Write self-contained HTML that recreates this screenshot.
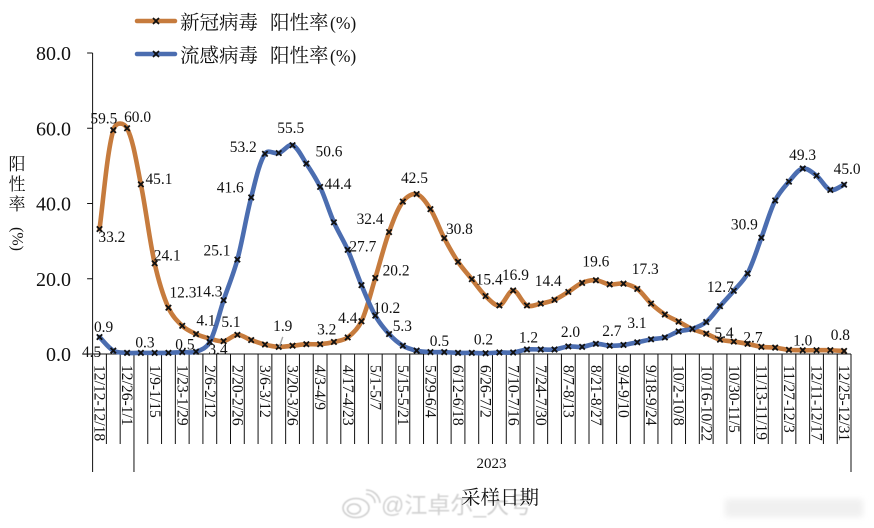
<!DOCTYPE html>
<html lang="zh">
<head>
<meta charset="utf-8">
<title>新冠病毒与流感病毒阳性率</title>
<style>
html,body{margin:0;padding:0;background:#fff}
svg{display:block}
text{font-family:"Liberation Serif","Noto Serif CJK SC",serif;fill:#111}
</style>
</head>
<body>
<svg id="chart" width="874" height="528" viewBox="0 0 874 528" xmlns="http://www.w3.org/2000/svg">
  <defs><filter id="soft" x="-20%" y="-50%" width="140%" height="200%"><feGaussianBlur stdDeviation="3"/></filter>
  <filter id="soft2"><feGaussianBlur stdDeviation="0.6"/></filter></defs>
  <g>
    <g fill="none" stroke="#cfcfcf" stroke-width="1.6" filter="url(#soft2)">
      <ellipse cx="356" cy="508" rx="13" ry="9.5"/><ellipse cx="354" cy="509" rx="6.5" ry="5"/>
      <path d="M366 494a9 9 0 0 1 9 9M366 490a14 14 0 0 1 14 13"/>
    </g>
    <text x="381" y="513" font-size="23" style="fill:#d2d2d2;font-family:'Liberation Sans','Noto Sans CJK SC',sans-serif" filter="url(#soft2)">@江卓尔_大号</text>
    <rect x="725" y="499" width="138" height="18" fill="#f0f0f0" filter="url(#soft)"/>
  </g>
  <g id="axes"></g>
  <g id="series"></g>
  <g id="labels"></g>
  <g>
    <g>
      <line x1="137" x2="175" y1="21" y2="21" stroke="#C67B3D" stroke-width="4.5" stroke-linecap="round"/>
      <path d="M153 18l6 6M159 18l-6 6" stroke="#111" stroke-width="1.8"/>
      <text y="29" font-size="19.5"><tspan x="180">新冠病毒</tspan><tspan x="270">阳性率</tspan><tspan x="330" font-size="17.5">(%)</tspan></text>
    </g>
    <g>
      <line x1="137" x2="175" y1="54" y2="54" stroke="#4B6DB0" stroke-width="4.5" stroke-linecap="round"/>
      <path d="M153 51l6 6M159 51l-6 6" stroke="#111" stroke-width="1.8"/>
      <text y="62" font-size="19.5"><tspan x="180">流感病毒</tspan><tspan x="270">阳性率</tspan><tspan x="330" font-size="17.5">(%)</tspan></text>
    </g>
  </g>
  <g>
    <text x="17" y="170" font-size="17" text-anchor="middle">阳</text>
    <text x="17" y="190" font-size="17" text-anchor="middle">性</text>
    <text x="17" y="210" font-size="17" text-anchor="middle">率</text>
    <text x="17" y="239" font-size="16" text-anchor="middle" dominant-baseline="central" transform="rotate(90 17 239)">(%)</text>
  </g>
  <text x="491.5" y="468" font-size="15" text-anchor="middle">2023</text>
  <text x="500" y="504" font-size="19.5" text-anchor="middle">采样日期</text>
</svg>
<script>
const categories = ["12/12-12/18","12/19-12/25","12/26-1/1","1/2-1/8","1/9-1/15","1/16-1/22","1/23-1/29","1/30-2/5","2/6-2/12","2/13-2/19","2/20-2/26","2/27-3/5","3/6-3/12","3/13-3/19","3/20-3/26","3/27-4/2","4/3-4/9","4/10-4/16","4/17-4/23","4/24-4/30","5/1-5/7","5/8-5/14","5/15-5/21","5/22-5/28","5/29-6/4","6/5-6/11","6/12-6/18","6/19-6/25","6/26-7/2","7/3-7/9","7/10-7/16","7/17-7/23","7/24-7/30","7/31-8/6","8/7-8/13","8/14-8/20","8/21-8/27","8/28-9/3","9/4-9/10","9/11-9/17","9/18-9/24","9/25-10/1","10/2-10/8","10/9-10/15","10/16-10/22","10/23-10/29","10/30-11/5","11/6-11/12","11/13-11/19","11/20-11/26","11/27-12/3","12/4-12/10","12/11-12/17","12/18-12/24","12/25-12/31"];
const covidValues = [33.2,59.5,60.0,45.1,24.1,12.3,7.5,5.3,4.1,3.4,5.1,3.7,2.5,1.9,2.2,2.6,2.6,3.2,4.4,8.7,20.2,32.4,40.5,42.5,38.5,30.8,24.5,19.9,15.4,12.9,16.9,12.9,13.4,14.4,16.5,18.9,19.6,18.5,18.7,17.3,13.4,10.5,8.6,6.6,5.4,3.8,3.3,2.7,1.9,1.7,1.1,1.0,1.0,1.0,0.8];
const fluValues = [4.5,0.9,0.3,0.3,0.3,0.3,0.5,0.6,3.2,14.3,25.1,41.6,53.2,53.4,55.5,50.6,44.4,35.0,27.7,18.3,10.2,5.3,2.2,0.9,0.5,0.5,0.3,0.3,0.2,0.4,0.4,1.2,1.2,1.2,2.0,1.9,2.7,2.2,2.4,3.1,3.9,4.4,6.0,6.7,8.5,12.7,16.8,21.4,30.9,40.8,45.8,49.3,47.4,43.6,45.0];
const yTicks = [0,20,40,60,80];
const groupBoundaries = [0,3,55];
const covidLabelled = [0,1,2,3,4,5,8,9,10,13,17,18,20,21,23,25,28,30,33,36,39,44,47,51,54];
const fluLabelled = [0,1,3,6,9,10,11,12,14,15,16,18,20,21,24,28,31,34,36,39,45,48,51,54];

const NS = "http://www.w3.org/2000/svg";
const plot = {left:92.6, right:851, top:53, bottom:354, yMax:80};
const band = (plot.right - plot.left) / categories.length;
const chordBlend = 0.6;
function xScale(i){ return plot.left + band * (i + 0.5); }
function yScale(v){ return plot.bottom - (plot.bottom - plot.top) * v / plot.yMax; }
function make(tag, attrs, parent){
  const el = document.createElementNS(NS, tag);
  Object.keys(attrs).forEach(function(k){ el.setAttribute(k, attrs[k]); });
  parent.appendChild(el);
  return el;
}
function dist(p,q){ return Math.hypot(p[0]-q[0], p[1]-q[1]); }
function handle(prevLen, segLen){
  const chord = (prevLen + segLen) > 0 ? segLen / (prevLen + segLen) / 3 : 1/6;
  return chordBlend * chord + (1 - chordBlend) / 6;
}
function smoothPath(vals){
  const p = vals.map(function(v,i){ return [xScale(i), yScale(v)]; });
  let d = "M" + p[0][0].toFixed(2) + " " + p[0][1].toFixed(2);
  for (let i = 0; i < p.length - 1; i++){
    const a = p[Math.max(i-1,0)], b = p[i], c = p[i+1], e = p[Math.min(i+2,p.length-1)];
    const l0 = dist(a,b), l1 = dist(b,c), l2 = dist(c,e);
    const h1 = handle(l0,l1), h2 = handle(l2,l1);
    const c1x = b[0] + (c[0]-a[0])*h1, c1y = b[1] + (c[1]-a[1])*h1;
    const c2x = c[0] - (e[0]-b[0])*h2, c2y = c[1] - (e[1]-b[1])*h2;
    d += "C" + [c1x,c1y,c2x,c2y,c[0],c[1]].map(function(n){ return n.toFixed(2); }).join(" ");
  }
  return d;
}

// axes
const axes = document.getElementById("axes");
const yAxisLine = make("line",{x1:plot.left,x2:plot.left,y1:plot.top,y2:plot.bottom,stroke:"#111","stroke-width":1},axes);


const xAxisLine = make("line",{x1:plot.left,x2:plot.right,y1:plot.bottom,y2:plot.bottom,stroke:"#111","stroke-width":1},axes);


yTicks.forEach(function(t){
  const tick = make("line",{x1:plot.left-5.5,x2:plot.left,y1:yScale(t),y2:yScale(t),stroke:"#111","stroke-width":1},axes);
  
  
  const lab = make("text",{x:71,y:yScale(t)+1,"font-size":20,"text-anchor":"end","dominant-baseline":"central"},axes);
  
  
  lab.textContent = t.toFixed(1);
});
for (let i = 0; i <= categories.length; i++){
  const long = groupBoundaries.indexOf(i) >= 0;
  const tx = plot.left + band * i;
  const tick = make("line",{x1:tx,x2:tx,y1:plot.bottom,y2:long?472:444,stroke:"#111","stroke-width":1},axes);
  
  
}
categories.forEach(function(c,i){
  if (i % 2) return;
  const tx = xScale(i) - 0.4;
  const lab = make("text",{x:tx,y:365,"font-size":15.6,"dominant-baseline":"central",transform:"rotate(90 "+tx+" 365)"},axes);
  
  
  lab.textContent = c;
});

// series
const seriesG = document.getElementById("series");
function drawSeries(vals, color, name){
  const line = make("path",{d:smoothPath(vals),fill:"none",stroke:color,"stroke-width":4.6,"stroke-linecap":"round","stroke-linejoin":"round"},seriesG);
  
  
  vals.forEach(function(v,i){
    const px = xScale(i), py = yScale(v), r = 2.7;
    const m = make("path",{d:"M"+(px-r)+" "+(py-r)+"L"+(px+r)+" "+(py+r)+"M"+(px+r)+" "+(py-r)+"L"+(px-r)+" "+(py+r),stroke:"#111","stroke-width":1.8,fill:"none"},seriesG);
    
    
  });
}
drawSeries(covidValues,"#C67B3D","covid");
drawSeries(fluValues,"#4B6DB0","flu");

// data labels
const covidOffset = {0:[12.4,7.6],1:[-9.4,-12.1],2:[10.5,-11.6],3:[18.1,-5.6],4:[12.6,-8.3],5:[14.5,-15.7],8:[-3.8,-18.6],9:[-5.6,7.8],10:[-6.4,-13.1],13:[4,-21.2],17:[-7.2,-13],18:[0.1,-19.7],20:[20.8,-8],21:[-19,-13.4],23:[-2.2,-16.4],25:[15.2,-9.4],28:[3.6,-17.1],30:[2.3,-15.7],33:[-6.3,-19.5],36:[0,-19.3],39:[8,-20.2],44:[17.8,-1.4],47:[5.4,-6.8],51:[0,-10.2],54:[-3.7,-16.3]};
const fluOffset = {0:[-7.9,14.6],1:[-9.7,-23.9],3:[4.1,-10.9],6:[2.7,-8.1],9:[-14.6,-9.2],10:[-20.4,-9.6],11:[-20.9,-10.5],12:[-21.7,-7.1],14:[-1.8,-17.5],15:[22.7,-12.6],16:[17.9,-3.2],18:[15.1,-3.8],20:[11.5,-7.9],21:[13.3,-8.4],24:[9,-11.4],28:[-2.1,-14.2],31:[1.5,-12.5],34:[2.2,-14.8],36:[16,-13.5],39:[-0.3,-19.6],45:[0.3,-19.5],48:[-17,-13.7],51:[-0.1,-14.2],54:[3,-16]};
const labelsG = document.getElementById("labels");
function drawLabels(vals, idx, off, name){
  idx.forEach(function(i){
    const o = off[i] || [0,-12];
    const t = make("text",{x:xScale(i)+o[0],y:yScale(vals[i])+o[1]+1,"font-size":15.4,"text-anchor":"middle","dominant-baseline":"central"},labelsG);
    
    
    t.textContent = vals[i].toFixed(1);
  });
}
drawLabels(covidValues,covidLabelled,covidOffset,"covid");
drawLabels(fluValues,fluLabelled,fluOffset,"flu");
const leader = make("line",{x1:xScale(13)+4,y1:yScale(covidValues[13])-10,x2:xScale(13)+0.6,y2:yScale(covidValues[13]),stroke:"#a6a6a6","stroke-width":1.4},labelsG);


</script>
</body>
</html>
